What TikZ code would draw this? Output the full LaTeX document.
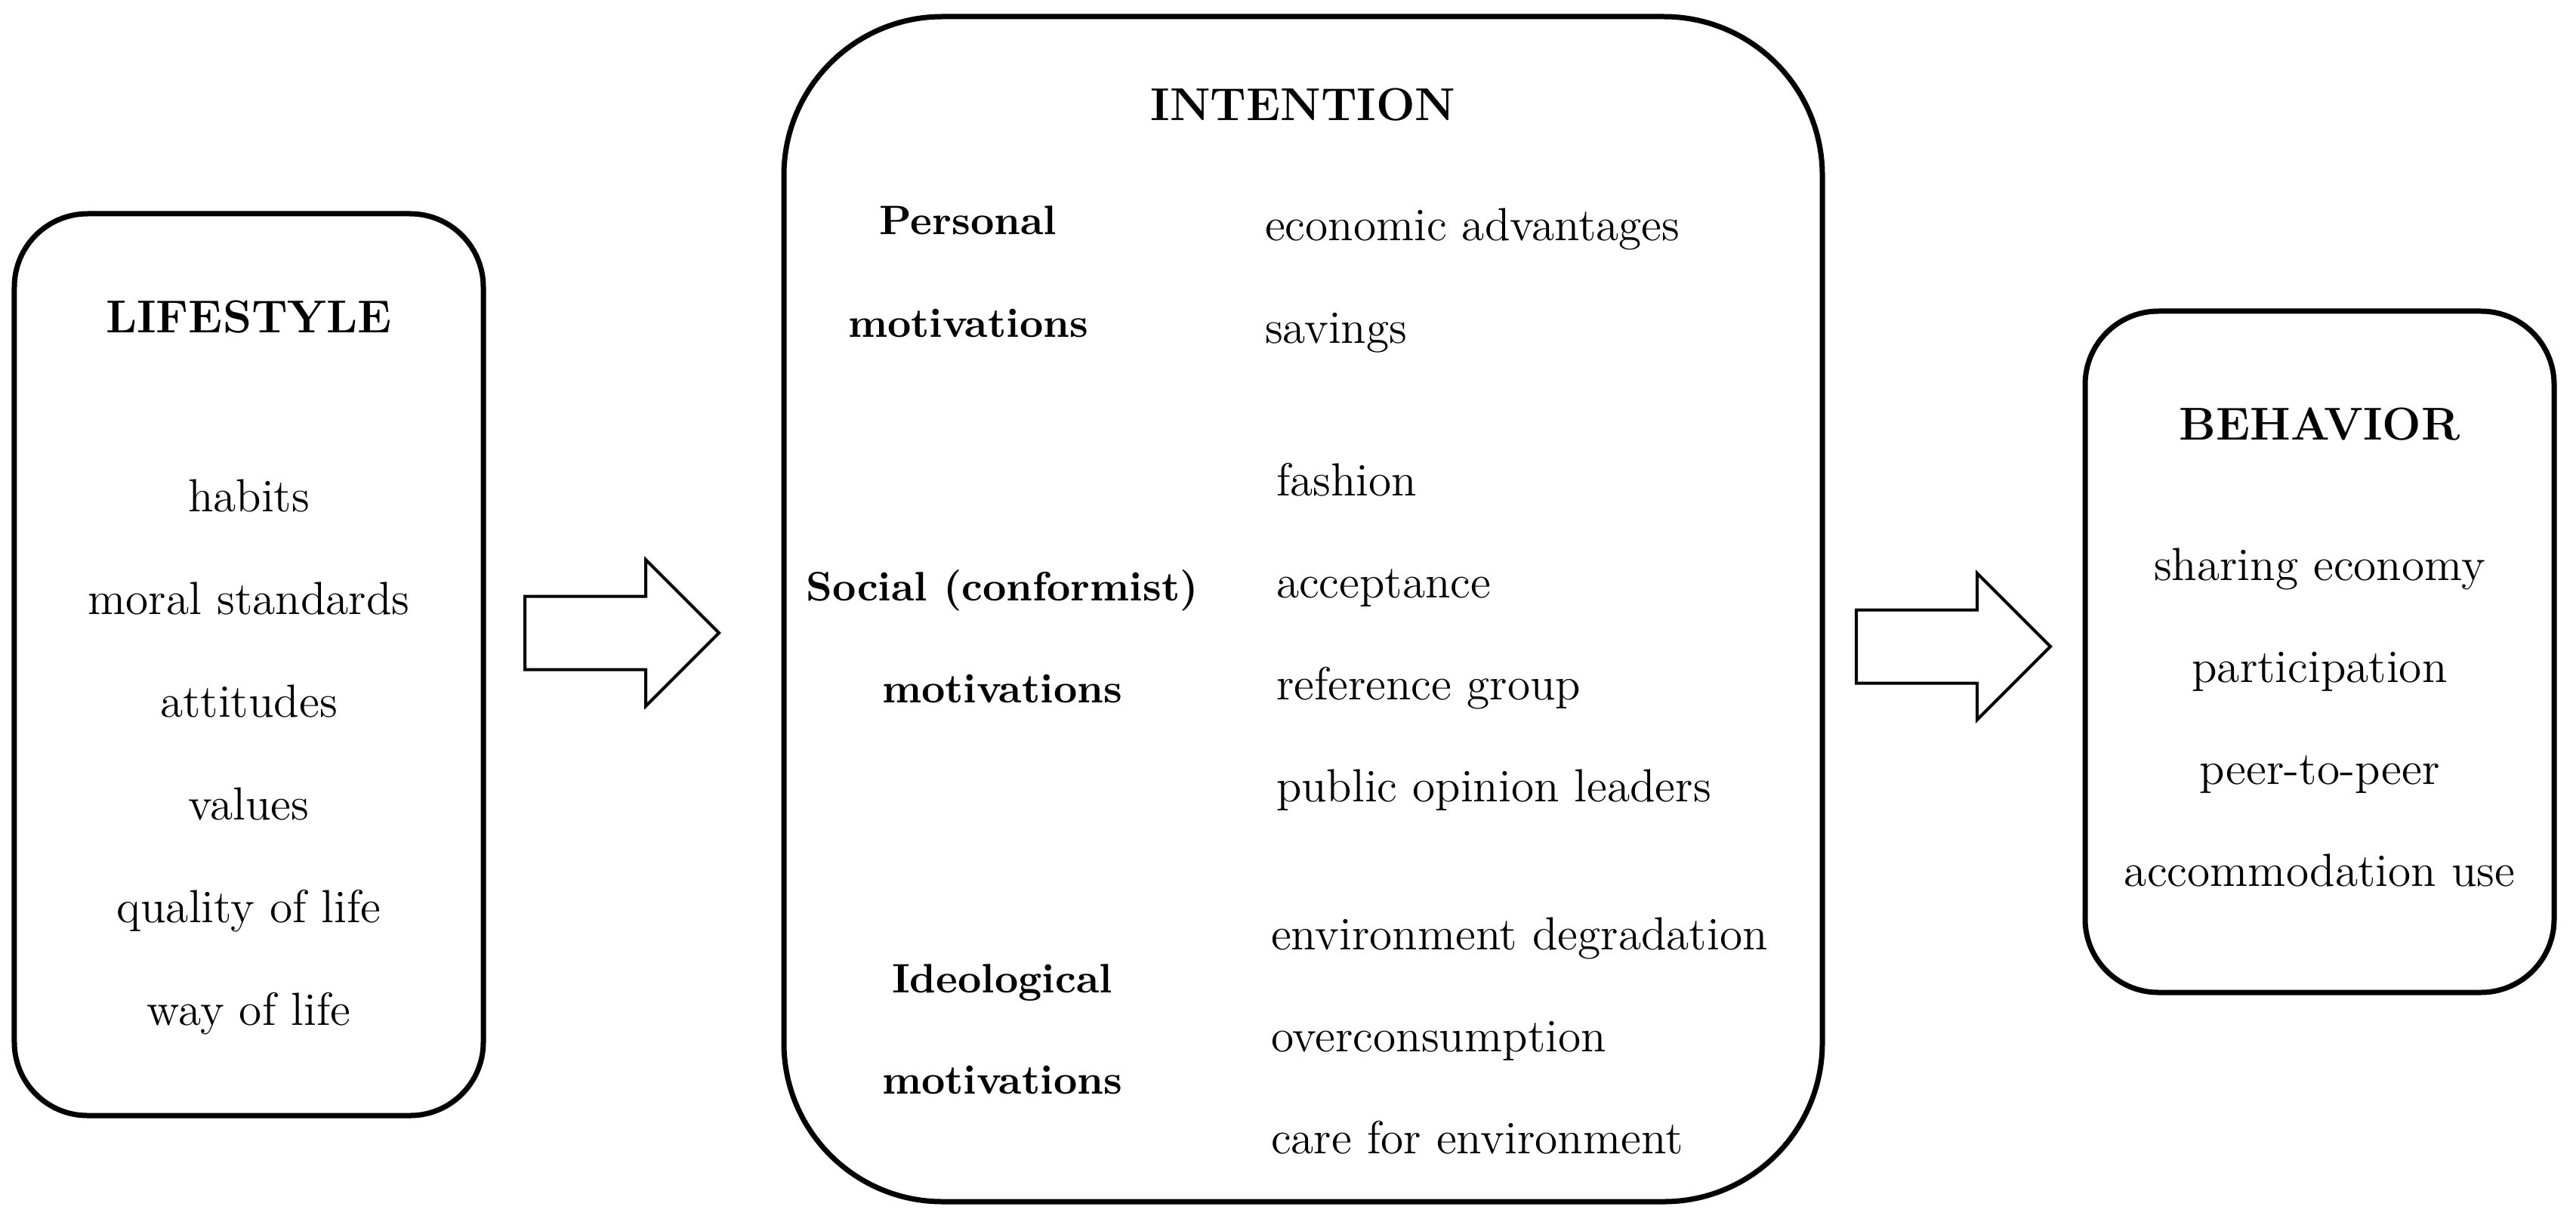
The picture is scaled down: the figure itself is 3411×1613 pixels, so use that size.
\documentclass[tikz,border=0pt]{standalone}
\usetikzlibrary{shapes.arrows}

\tikzstyle{box}=[rectangle,
    rounded corners=19.4pt,
    line width=1.4pt,
    draw=black]
\tikzstyle{boxtitle}=[anchor=base,
    inner sep=0pt,
    font=\fontsize{12.2}{15}\selectfont\bfseries]
\tikzstyle{group}=[anchor=base,
    inner sep=0pt,
    font=\fontsize{10.9}{14}\selectfont\bfseries]
\tikzstyle{entry}=[anchor=base,
    inner sep=0pt,
    font=\fontsize{12.3}{14}\selectfont]
\tikzstyle{blockarrow}=[single arrow,
    draw=black,
    line width=0.8pt,
    inner xsep=0pt,
    inner ysep=9.3pt,
    minimum height=51.4pt,
    single arrow head extend=9.7pt,
    anchor=tail]

\begin{document}
\begin{tikzpicture}[x=0.2pt,y=-0.2pt]
    \useasboundingbox (0,0) rectangle (3411,1613);

    \node (lifestyle) [box, minimum width=124.2pt, minimum height=238.8pt] at (329.5,880) {};
    \node (intention) [box, rounded corners=42pt, minimum width=275pt, minimum height=313.8pt] at (1725.5,806.5) {};
    \node (behavior) [box, minimum width=124.2pt, minimum height=180.4pt] at (3071.5,863) {};

    \node (arrowA) [blockarrow] at (693,838) {};
    \node (arrowB) [blockarrow] at (2456,856) {};

    \node (lifestyletitle) [boxtitle] at (329.5,440) {LIFESTYLE};
    \foreach \txt [count=\i from 0] in {habits, moral standards, attitudes, values, quality of life, way of life}
        \node (life\i) [entry] at (329.5,677+136*\i) {\txt};

    \node (intentiontitle) [boxtitle] at (1725.5,159) {INTENTION};
    \node (personal) [group] at (1282,310) {Personal};
    \node (personalmot) [group] at (1282,446) {motivations};
    \node (social) [group] at (1327,795) {Social (conformist)};
    \node (socialmot) [group] at (1327,930) {motivations};
    \node (ideological) [group] at (1327,1314) {Ideological};
    \node (ideologicalmot) [group] at (1327,1448) {motivations};

    \foreach \txt [count=\i from 0] in {economic advantages, savings}
        \node (pers\i) [entry, anchor=base west] at (1674,318+136*\i) {\txt};
    \foreach \txt [count=\i from 0] in {fashion, acceptance, reference group, public opinion leaders}
        \node (soc\i) [entry, anchor=base west] at (1689,656+135*\i) {\txt};
    \foreach \txt [count=\i from 0] in {environment degradation, overconsumption, care for environment}
        \node (ideo\i) [entry, anchor=base west] at (1682,1257+135*\i) {\txt};

    \node (behaviortitle) [boxtitle] at (3071.5,582) {BEHAVIOR};
    \foreach \txt [count=\i from 0] in {sharing economy, participation, peer-to-peer, accommodation use}
        \node (beh\i) [entry] at (3071.5,768+135*\i) {\txt};
\end{tikzpicture}
\end{document}
